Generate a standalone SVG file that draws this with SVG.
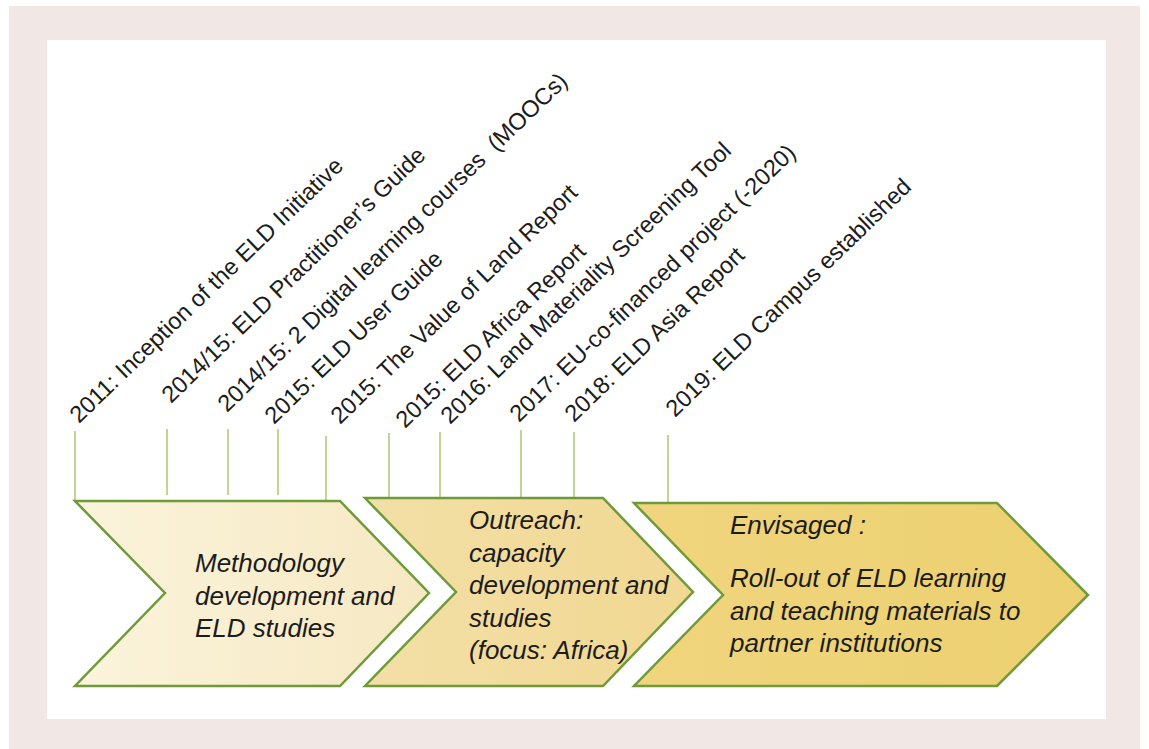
<svg xmlns="http://www.w3.org/2000/svg" width="1149" height="749" viewBox="0 0 1149 749">
  <defs>
    <linearGradient id="g1" x1="0" y1="0" x2="1" y2="0">
      <stop offset="0" stop-color="#fbf4dc"/>
      <stop offset="1" stop-color="#f6e8c2"/>
    </linearGradient>
    <linearGradient id="g2" x1="0" y1="0" x2="1" y2="0">
      <stop offset="0" stop-color="#f3dfa6"/>
      <stop offset="1" stop-color="#f1d892"/>
    </linearGradient>
    <linearGradient id="g3" x1="0" y1="0" x2="1" y2="0">
      <stop offset="0" stop-color="#f0d57e"/>
      <stop offset="1" stop-color="#ecd070"/>
    </linearGradient>
  </defs>
  <style>
    .tick { stroke: #b0cc7c; stroke-width: 1.6; fill: none; }
    .chev { stroke: #6e9a3a; stroke-width: 2.5; stroke-linejoin: miter; }
    .lbl { font-family: "Liberation Sans", Arial, sans-serif; font-size: 23.5px; fill: #1c1c1c; }
    .ct { font-family: "Liberation Sans", Arial, sans-serif; font-size: 26px; font-style: italic; fill: #1c1c1c; }
  </style>
  <rect x="0" y="0" width="1149" height="749" fill="#ffffff"/>
  <rect x="9" y="6" width="1131" height="743" fill="#f1e8e5"/>
  <rect x="47" y="40" width="1059" height="679" fill="#ffffff"/>

  <g id="connectors">
    <line class="tick" x1="75" y1="431" x2="75" y2="500"/>
    <line class="tick" x1="167" y1="429" x2="167" y2="495"/>
    <line class="tick" x1="228" y1="429" x2="228" y2="495"/>
    <line class="tick" x1="278" y1="429" x2="278" y2="495"/>
    <line class="tick" x1="326" y1="436" x2="326" y2="500"/>
    <line class="tick" x1="389" y1="433" x2="389" y2="498"/>
    <line class="tick" x1="440" y1="432" x2="440" y2="498"/>
    <line class="tick" x1="521" y1="430" x2="521" y2="498"/>
    <line class="tick" x1="574" y1="432" x2="574" y2="498"/>
    <line class="tick" x1="668" y1="435" x2="668" y2="502"/>
  </g>

  <g id="labels">
    <text class="lbl" transform="translate(79,424) rotate(-44)">2011: Inception of the ELD Initiative</text>
    <text class="lbl" transform="translate(171,404) rotate(-44)">2014/15: ELD Practitioner’s Guide</text>
    <text class="lbl" transform="translate(227,413) rotate(-44)" xml:space="preserve">2014/15: 2 Digital learning courses  (MOOCs)</text>
    <text class="lbl" transform="translate(274,425) rotate(-44)">2015: ELD User Guide</text>
    <text class="lbl" transform="translate(340,425) rotate(-44)">2015: The Value of Land Report</text>
    <text class="lbl" transform="translate(405,429) rotate(-44)">2015: ELD Africa Report</text>
    <text class="lbl" transform="translate(450,425) rotate(-44)">2016: Land Materiality Screening Tool</text>
    <text class="lbl" transform="translate(519,423) rotate(-44)">2017: EU-co-financed project (-2020)</text>
    <text class="lbl" transform="translate(574,423) rotate(-44)">2018: ELD Asia Report</text>
    <text class="lbl" transform="translate(675,418) rotate(-44)">2019: ELD Campus established</text>
  </g>

  <g id="phase1">
    <polygon class="chev" fill="url(#g1)" points="75,501 340,501 429,593 340,686 75,686 165,593"/>
    <text class="ct" x="195" y="572">Methodology</text>
    <text class="ct" x="195" y="604.5">development and</text>
    <text class="ct" x="195" y="637">ELD studies</text>
  </g>

  <g id="phase2">
    <polygon class="chev" fill="url(#g2)" points="365,498 603,498 693,592 603,686 365,686 456,592"/>
    <text class="ct" x="469" y="529">Outreach:</text>
    <text class="ct" x="469" y="561.5">capacity</text>
    <text class="ct" x="469" y="594">development and</text>
    <text class="ct" x="469" y="626.5">studies</text>
    <text class="ct" x="469" y="659">(focus: Africa)</text>
  </g>

  <g id="phase3">
    <polygon class="chev" fill="url(#g3)" points="634,503 997,503 1088,595 997,686 634,686 723,595"/>
    <text class="ct" x="730" y="534">Envisaged :</text>
    <text class="ct" x="730" y="587">Roll-out of ELD learning</text>
    <text class="ct" x="730" y="619.5">and teaching materials to</text>
    <text class="ct" x="730" y="652">partner institutions</text>
  </g>
</svg>
